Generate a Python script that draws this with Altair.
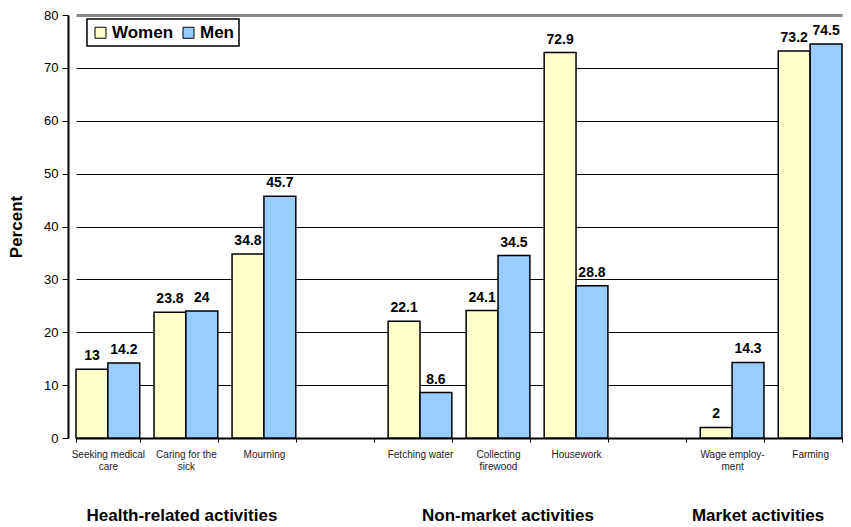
import altair as alt
import pandas as pd

# ---- data ----
categories = ["Seeking medical|care", "Caring for the|sick", "Mourning", "gap1",
              "Fetching water", "Collecting|firewood", "Housework", "gap2",
              "Wage employ-|ment", "Farming"]
activities = ["Seeking medical|care", "Caring for the|sick", "Mourning",
              "Fetching water", "Collecting|firewood", "Housework",
              "Wage employ-|ment", "Farming"]
women = [13, 23.8, 34.8, 22.1, 24.1, 72.9, 2, 73.2]
men = [14.2, 24, 45.7, 8.6, 34.5, 28.8, 14.3, 74.5]
genders = ["Women", "Men"]
colors = ["#FFFFCC", "#99CCFF"]
groups = ["Health-related activities", "Non-market activities", "Market activities"]
group_anchor = ["Caring for the|sick", "Collecting|firewood", "Wage employ-|ment"]
y_ticks = [0, 10, 20, 30, 40, 50, 60, 70, 80]

rows = []
for a, w, m in zip(activities, women, men):
    rows.append({"cat": a, "gender": "Women", "value": w})
    rows.append({"cat": a, "gender": "Men", "value": m})
df = pd.DataFrame(rows)

FONT = "Liberation Sans"

x_scale = alt.Scale(domain=categories, range=[8, 774], paddingInner=0.183, paddingOuter=0)
off_scale = alt.Scale(domain=genders, paddingInner=0, paddingOuter=0)
y_scale = alt.Scale(domain=[0, 80], nice=False)

x_axis = alt.Axis(
    title=None,
    labelExpr="indexof(datum.label, 'gap') == 0 ? '' : split(datum.label, '|')",
    labelAngle=0, labelFontSize=10, labelColor="#222222", labelFont=FONT,
    labelPadding=7, labelBaseline="top", labelLineHeight=12,
    tickBand="extent", tickSize=4, tickColor="black", tickWidth=1,
    domainColor="black", domainWidth=2, grid=False,
)
y_axis = alt.Axis(
    title="Percent", titleFontSize=17, titleFontWeight="bold", titleFont=FONT,
    titleColor="black", titlePadding=18,
    values=y_ticks, labelFontSize=13, labelFont=FONT, labelColor="black",
    labelPadding=4, tickSize=6, tickColor="black", tickWidth=1,
    domainColor="black", domainWidth=2,
    grid=True,
    gridColor=alt.condition("datum.value == 80", alt.value("#888888"), alt.value("black")),
    gridWidth=alt.condition("datum.value == 80", alt.value(3), alt.value(1)),
)

base = alt.Chart(df)

bars = base.mark_bar(stroke="black", strokeWidth=1.5).encode(
    x=alt.X("cat:N", scale=x_scale, axis=x_axis, sort=categories),
    xOffset=alt.XOffset("gender:N", scale=off_scale, sort=genders),
    y=alt.Y("value:Q", scale=y_scale, axis=y_axis),
    color=alt.Color(
        "gender:N",
        scale=alt.Scale(domain=genders, range=colors),
        legend=alt.Legend(
            orient="none", legendX=19, legendY=4, direction="horizontal",
            title=None, strokeColor="black", fillColor="white", padding=5,
            symbolType="square", symbolSize=121, symbolStrokeColor="black",
            symbolStrokeWidth=1, labelFontSize=17, labelFontWeight="bold",
            labelFont=FONT, labelColor="black", labelOffset=3, columnPadding=6,
        ),
    ),
)

labels = base.mark_text(
    dy=-9, baseline="alphabetic", fontSize=14, fontWeight="bold", font=FONT, color="black"
).encode(
    x=alt.X("cat:N", scale=x_scale, sort=categories),
    xOffset=alt.XOffset("gender:N", scale=off_scale, sort=genders),
    y=alt.Y("value:Q", scale=y_scale),
    text=alt.Text("value:Q"),
)

gdf = pd.DataFrame({"group": groups, "cat": group_anchor})
group_dx = [-4, 10, 26]
group_layers = []
for i, g in enumerate(groups):
    group_layers.append(
        alt.Chart(gdf[gdf["group"] == g]).mark_text(
            fontSize=17, fontWeight="bold", font=FONT, color="black",
            baseline="middle", dx=group_dx[i]
        ).encode(
            x=alt.X("cat:N", scale=x_scale, sort=categories),
            y=alt.value(501),
            text="group:N",
        )
    )

chart = alt.layer(bars, labels, *group_layers).properties(
    width=775, height=423,
    autosize=alt.AutoSizeParams(type="none"),
    padding={"left": 60, "top": 7, "right": 0, "bottom": 90},
).configure_view(stroke=None).configure_legend(strokeWidth=1.5)

chart.save("out.html", embed_options={"renderer": "svg", "actions": False})
